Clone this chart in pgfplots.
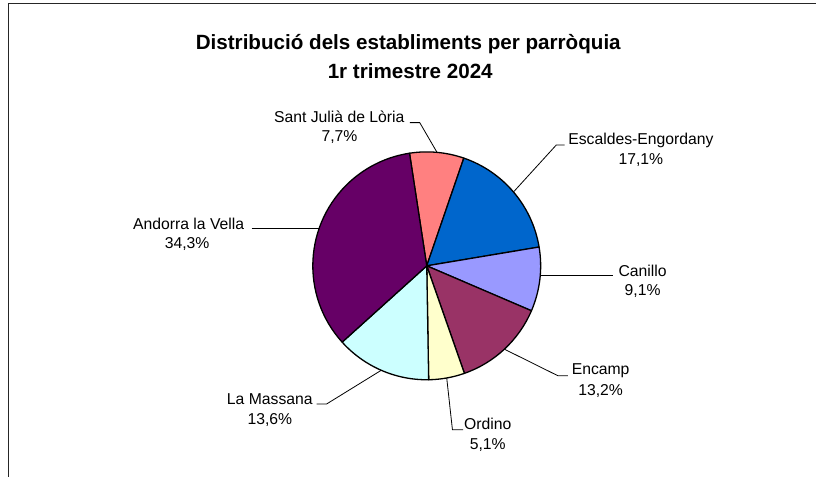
\documentclass[border=0pt]{standalone}
\usepackage{fontspec}
\setmainfont{Liberation Sans}
\usepackage{pgfplots}
\pgfplotsset{compat=1.18}

\definecolor{sjl}{HTML}{FF8080}
\definecolor{esc}{HTML}{0066CC}
\definecolor{can}{HTML}{9999FF}
\definecolor{enc}{HTML}{993366}
\definecolor{ord}{HTML}{FFFFCC}
\definecolor{mas}{HTML}{CCFFFF}
\definecolor{alv}{HTML}{660066}

\begin{document}
\begin{tikzpicture}
\begin{axis}[
    width=816bp, height=477bp,
    scale only axis,
    hide axis,
    xmin=0, xmax=816, ymin=0, ymax=477,
    clip=false,
]
% keep the page exactly the size of the reference
\path (axis cs:0,0) rectangle (axis cs:816,477);

% chart frame (only top and left visible)
\draw[line width=1bp, black!85] (axis cs:816,473) -- (axis cs:9,473) -- (axis cs:9,0);

% pie, clockwise from 98.7 degrees
\def\angA{98.7}
\foreach \v/\c in {7.7/sjl, 17.1/esc, 9.1/can, 13.2/enc, 5.1/ord, 13.6/mas, 34.3/alv} {
    \pgfmathsetmacro\angB{\angA-\v*360/100.1}
    \edef\slice{\noexpand\filldraw[fill=\c, draw=black, line width=1.3bp, line join=round]
        (axis cs:427,211) -- ++(\angA:114bp) arc[start angle=\angA, end angle=\angB, radius=114bp] -- cycle;}
    \slice
    \global\let\angA\angB
}

% leader lines
\draw[black, line width=0.8bp] (axis cs:410,354.3) -- (axis cs:420,354.3) -- (axis cs:437.3,324.5);
\draw[black, line width=0.8bp] (axis cs:565,332) -- (axis cs:556.7,332) -- (axis cs:513.8,284.9);
\draw[black, line width=0.8bp] (axis cs:613.3,201) -- (axis cs:540.6,201);
\draw[black, line width=0.8bp] (axis cs:568.3,101) -- (axis cs:558.3,101) -- (axis cs:504.7,127.6);
\draw[black, line width=0.8bp] (axis cs:463.3,47) -- (axis cs:452.7,47) -- (axis cs:447,98.8);
\draw[black, line width=0.8bp] (axis cs:316.7,72.7) -- (axis cs:326.7,72.7) -- (axis cs:381.5,106.5);
\draw[black, line width=0.8bp] (axis cs:251.7,248.7) -- (axis cs:319.4,248.7);

% title
\node[anchor=base, font=\fontsize{20.7}{28}\selectfont\bfseries] at (axis cs:408.5,427) {Distribució dels establiments per parròquia};
\node[anchor=base, font=\fontsize{20.7}{28}\selectfont\bfseries] at (axis cs:410.5,398.7) {1r trimestre 2024};

% data labels
\tikzset{lbl/.style={anchor=base, inner sep=0pt, font=\fontsize{15.8}{19}\selectfont}}
\node[lbl] at (axis cs:339.5,354.3) {Sant Julià de Lòria};
\node[lbl] at (axis cs:339.7,335.3) {7,7\%};
\node[lbl] at (axis cs:641.3,332) {Escaldes-Engordany};
\node[lbl] at (axis cs:641.3,312) {17,1\%};
\node[lbl] at (axis cs:643,200.3) {Canillo};
\node[lbl] at (axis cs:643,181.3) {9,1\%};
\node[lbl] at (axis cs:601,102) {Encamp};
\node[lbl] at (axis cs:601,81.3) {13,2\%};
\node[lbl] at (axis cs:488,47) {Ordino};
\node[lbl] at (axis cs:488,27) {5,1\%};
\node[lbl] at (axis cs:270,72) {La Massana};
\node[lbl] at (axis cs:270,52.7) {13,6\%};
\node[lbl] at (axis cs:188.8,247.7) {Andorra la Vella};
\node[lbl] at (axis cs:187.2,228.7) {34,3\%};
\end{axis}
\end{tikzpicture}
\end{document}
